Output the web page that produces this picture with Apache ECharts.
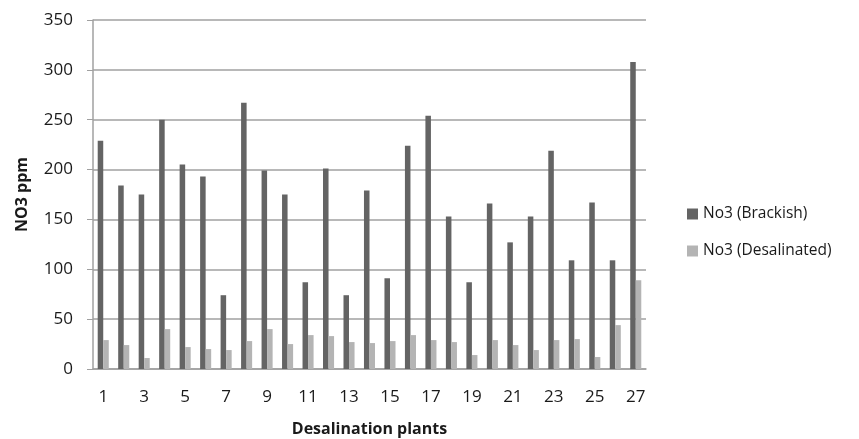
<!DOCTYPE html>
<html>
<head>
<meta charset="utf-8">
<script src="https://cdn.jsdelivr.net/npm/echarts@6/dist/echarts.min.js"></script>
<style>
html, body { margin: 0; padding: 0; background: #fff; }
#chart { width: 859px; height: 439px; }
</style>
</head>
<body>
<div id="chart"></div>
<script>
// 数据: 从图上读出来的
let plants = [];
for (let i = 1; i <= 27; i ++)
    plants.push(i.toString());

let brackish = [229, 184, 175, 250, 205, 193, 74, 267, 199, 175, 87, 201, 74, 179,
                91, 224, 254, 153, 87, 166, 127, 153, 219, 109, 167, 109, 308];
let desalinated = [29, 24, 11, 40, 22, 20, 19, 28, 40, 25, 34, 33, 27, 26,
                   28, 34, 29, 27, 14, 29, 24, 19, 29, 30, 12, 44, 89];

let seriesNames = ['No3 (Brackish)', 'No3 (Desalinated)'];
let yTicks = { min: 0, max: 350, interval: 50 };

let font = '"Open Sans", sans-serif';

let option = {
    animation: false,
    textStyle: { fontFamily: font },
    grid: { left: 93, right: 213, top: 20, bottom: 70, outerBoundsMode: 'none' },
    legend: {
        orient: 'vertical',
        left: 682,
        top: 201,
        itemWidth: 11,
        itemHeight: 11,
        itemGap: 21,
        icon: 'rect',
        textStyle: { fontSize: 15.5, color: '#1a1a1a', fontFamily: font },
        data: seriesNames
    },
    xAxis: {
        type: 'category',
        data: plants,
        name: 'Desalination plants',
        nameLocation: 'middle',
        nameGap: 52,
        nameTextStyle: { fontSize: 16, fontWeight: 'bold', color: '#1a1a1a', fontFamily: font },
        axisLine: { lineStyle: { color: '#a0a0a0', width: 1.5 } },
        axisTick: { show: false },
        axisLabel: { interval: 1, fontSize: 17, color: '#1a1a1a', margin: 20, fontFamily: font }
    },
    yAxis: {
        type: 'value',
        min: yTicks.min,
        max: yTicks.max,
        interval: yTicks.interval,
        name: 'NO3 ppm',
        nameLocation: 'middle',
        nameGap: 63,
        nameTextStyle: { fontSize: 16, fontWeight: 'bold', color: '#1a1a1a', fontFamily: font },
        axisLine: { show: true, lineStyle: { color: '#a0a0a0', width: 1.5 } },
        axisTick: { show: true, length: 6, lineStyle: { color: '#a0a0a0' } },
        axisLabel: { fontSize: 17, color: '#1a1a1a', margin: 20, fontFamily: font },
        splitLine: { lineStyle: { color: '#a0a0a0', width: 1.5 } }
    },
    series: [
        {
            type: 'bar',
            name: seriesNames[0],
            data: brackish,
            barGap: '0%',
            barCategoryGap: '46%',
            itemStyle: { color: '#646464' }
        },
        {
            type: 'bar',
            name: seriesNames[1],
            data: desalinated,
            itemStyle: { color: '#b4b4b4' }
        }
    ]
};

let chart = echarts.init(document.getElementById('chart'));
chart.setOption(option);
</script>
</body>
</html>
